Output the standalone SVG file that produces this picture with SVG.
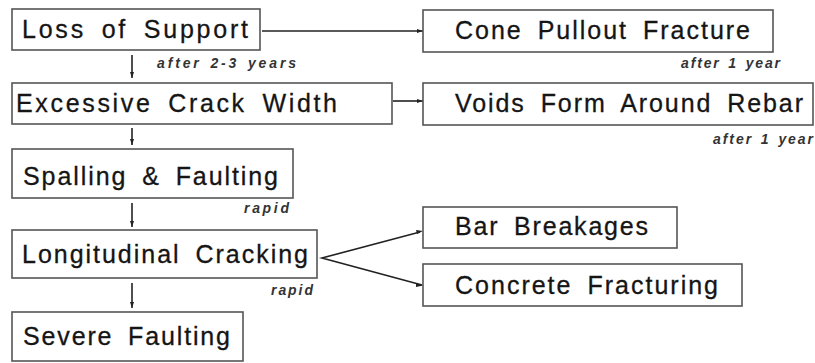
<svg xmlns="http://www.w3.org/2000/svg" width="815" height="363" viewBox="0 0 815 363">
<defs>
<marker id="ah" viewBox="0 0 6 4" refX="6" refY="2" markerWidth="6" markerHeight="4" markerUnits="userSpaceOnUse" orient="auto">
<path d="M0,0 L6,2 L0,4 z" fill="#222"/>
</marker>
<style>
.box{fill:#fff;stroke:#555;stroke-width:1.6}
.t{font-family:"Liberation Sans",Arial,sans-serif;font-size:25px;word-spacing:6px;fill:#151515;stroke:#151515;stroke-width:0.3}
.s{font-family:"Liberation Sans",Arial,sans-serif;font-size:14px;font-weight:bold;font-style:italic;word-spacing:2px;fill:#333}
.c{stroke:#222;stroke-width:1.6;fill:none}
.a{marker-end:url(#ah)}
</style>
</defs>
<rect width="815" height="363" fill="#fff"/>
<g id="connectors">
<line class="c a" x1="262" y1="31" x2="423" y2="31"/>
<line class="c a" x1="393" y1="101" x2="423" y2="101"/>
<line class="c a" x1="132" y1="55" x2="132" y2="78"/>
<line class="c a" x1="132" y1="128" x2="132" y2="145"/>
<line class="c a" x1="132" y1="203" x2="132" y2="227"/>
<line class="c a" x1="132" y1="283" x2="132" y2="308"/>
<polyline class="c" points="420,232 322,258 422,285"/>
<path d="M416,230 L423,231 L417,234 z M416,283 L423,285.5 L416,287 z" fill="#222"/>
</g>
<g id="loss">
<rect class="box" x="12" y="9" width="248" height="41"/>
<text class="t" x="22" y="38" textLength="226" lengthAdjust="spacing">Loss of Support</text>
</g>
<g id="cone">
<rect class="box" x="423" y="10" width="350" height="42"/>
<text class="t" x="455" y="39" textLength="295" lengthAdjust="spacing">Cone Pullout Fracture</text>
</g>
<g id="excessive">
<rect class="box" x="12" y="83" width="380" height="41"/>
<text class="t" x="16" y="112" textLength="321" lengthAdjust="spacing">Excessive Crack Width</text>
</g>
<g id="voids">
<rect class="box" x="423" y="83" width="390" height="42"/>
<text class="t" x="455" y="112" textLength="348" lengthAdjust="spacing">Voids Form Around Rebar</text>
</g>
<g id="spalling">
<rect class="box" x="12" y="149" width="281" height="49"/>
<text class="t" x="23" y="185" textLength="255" lengthAdjust="spacing">Spalling &amp; Faulting</text>
</g>
<g id="longitudinal">
<rect class="box" x="12" y="230" width="305" height="48"/>
<text class="t" x="22" y="263" textLength="286" lengthAdjust="spacing">Longitudinal Cracking</text>
</g>
<g id="severe">
<rect class="box" x="12" y="312" width="231" height="49"/>
<text class="t" x="23" y="345" textLength="207" lengthAdjust="spacing">Severe Faulting</text>
</g>
<g id="bar">
<rect class="box" x="423" y="207" width="254" height="41"/>
<text class="t" x="455" y="235" textLength="193" lengthAdjust="spacing">Bar Breakages</text>
</g>
<g id="concrete">
<rect class="box" x="423" y="264" width="319" height="42"/>
<text class="t" x="455" y="294" textLength="263" lengthAdjust="spacing">Concrete Fracturing</text>
</g>
<g id="labels">
<text class="s" x="157" y="68" textLength="139" lengthAdjust="spacing">after 2-3 years</text>
<text class="s" x="681" y="68" textLength="99" lengthAdjust="spacing">after 1 year</text>
<text class="s" x="713" y="144" textLength="100" lengthAdjust="spacing">after 1 year</text>
<text class="s" x="244" y="213" textLength="45" lengthAdjust="spacing">rapid</text>
<text class="s" x="271" y="295" textLength="42" lengthAdjust="spacing">rapid</text>
</g>
</svg>
